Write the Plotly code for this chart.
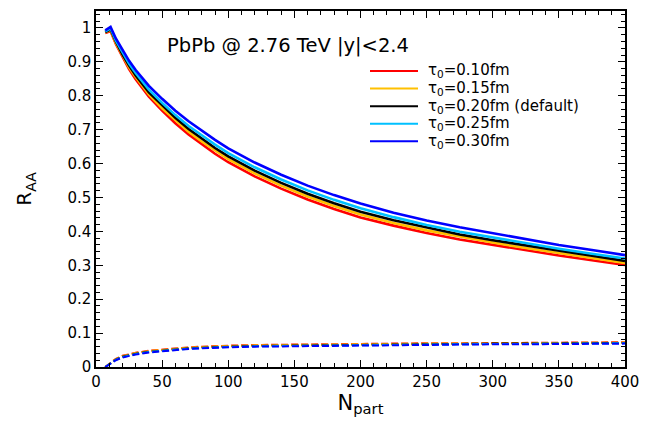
import plotly.graph_objects as go

# N_part sampling points
npart = [7, 11, 15, 20, 25, 30, 40, 50, 60, 70, 80, 90, 100, 120, 140, 160, 180, 200,
         225, 250, 275, 300, 325, 350, 375, 400]

# R_AA (solid curves)
raa_010 = [0.985, 0.991, 0.953, 0.914, 0.879, 0.849, 0.797, 0.756, 0.719, 0.686, 0.657, 0.629, 0.604,
           0.562, 0.526, 0.494, 0.466, 0.441, 0.417, 0.395, 0.376, 0.360, 0.344, 0.329, 0.315, 0.301]
raa_015 = [0.987, 0.994, 0.956, 0.918, 0.884, 0.855, 0.804, 0.763, 0.727, 0.694, 0.665, 0.638, 0.613,
           0.571, 0.535, 0.503, 0.475, 0.450, 0.425, 0.403, 0.384, 0.367, 0.351, 0.336, 0.321, 0.307]
raa_020 = [0.988, 0.996, 0.960, 0.922, 0.889, 0.860, 0.810, 0.771, 0.735, 0.702, 0.674, 0.646, 0.621,
           0.579, 0.543, 0.511, 0.483, 0.458, 0.433, 0.411, 0.391, 0.374, 0.358, 0.342, 0.328, 0.313]
raa_025 = [0.990, 0.999, 0.963, 0.927, 0.895, 0.867, 0.818, 0.779, 0.743, 0.711, 0.683, 0.656, 0.631,
           0.589, 0.553, 0.521, 0.493, 0.468, 0.442, 0.419, 0.399, 0.382, 0.365, 0.349, 0.334, 0.320]
raa_030 = [0.993, 1.003, 0.969, 0.934, 0.903, 0.876, 0.829, 0.791, 0.756, 0.725, 0.697, 0.670, 0.645,
           0.603, 0.567, 0.535, 0.507, 0.482, 0.455, 0.432, 0.412, 0.394, 0.377, 0.360, 0.345, 0.330]

# dashed (lower) curves
dash_010 = [0.0, 0.012, 0.024, 0.033, 0.038, 0.042, 0.048, 0.052, 0.055, 0.058, 0.060, 0.062, 0.063,
            0.065, 0.066, 0.067, 0.068, 0.069, 0.069, 0.070, 0.070, 0.071, 0.071, 0.072, 0.072, 0.073]
dash_015 = [0.0, 0.012, 0.023, 0.032, 0.037, 0.041, 0.047, 0.051, 0.054, 0.057, 0.059, 0.061, 0.062,
            0.064, 0.065, 0.066, 0.067, 0.068, 0.068, 0.069, 0.069, 0.070, 0.070, 0.071, 0.071, 0.072]
dash_020 = [0.0, 0.011, 0.022, 0.030, 0.035, 0.039, 0.045, 0.049, 0.052, 0.055, 0.057, 0.059, 0.060,
            0.062, 0.063, 0.064, 0.065, 0.066, 0.067, 0.068, 0.068, 0.069, 0.069, 0.070, 0.070, 0.071]
dash_025 = [0.0, 0.011, 0.021, 0.029, 0.034, 0.038, 0.044, 0.048, 0.051, 0.054, 0.056, 0.058, 0.059,
            0.061, 0.062, 0.063, 0.064, 0.065, 0.066, 0.067, 0.067, 0.068, 0.068, 0.069, 0.069, 0.070]
dash_030 = [0.0, 0.010, 0.020, 0.028, 0.033, 0.037, 0.043, 0.047, 0.050, 0.053, 0.055, 0.057, 0.058,
            0.060, 0.061, 0.062, 0.063, 0.064, 0.065, 0.066, 0.066, 0.067, 0.067, 0.068, 0.068, 0.069]

labels = ["τ<sub>0</sub>=0.10fm", "τ<sub>0</sub>=0.15fm", "τ<sub>0</sub>=0.20fm (default)",
          "τ<sub>0</sub>=0.25fm", "τ<sub>0</sub>=0.30fm"]
colors = ["#ff0000", "#ffc000", "#000000", "#00c0ff", "#0000ff"]
solid = [raa_010, raa_015, raa_020, raa_025, raa_030]
dashed = [dash_010, dash_015, dash_020, dash_025, dash_030]

font_family = "DejaVu Sans, Liberation Sans, Arial, sans-serif"

fig = go.Figure()
for lab, col, ys in zip(labels, colors, solid):
    fig.add_trace(go.Scatter(x=npart, y=ys, mode="lines", name=lab, showlegend=False,
                             line=dict(color=col, width=2.6)))
for lab, col, ys in zip(labels, colors, dashed):
    fig.add_trace(go.Scatter(x=npart, y=ys, mode="lines", name=lab, showlegend=False,
                             line=dict(color=col, width=2, dash="7px,3px")))

axis_common = dict(showgrid=False, zeroline=False, showline=True, linecolor="black", linewidth=1.5,
                   mirror="ticks", ticks="inside", ticklen=7, tickwidth=1, tickcolor="black",
                   tickfont=dict(size=15, color="black", family=font_family))

fig.update_xaxes(range=[0, 400], tick0=0, dtick=50,
                 minor=dict(ticks="inside", ticklen=4, dtick=10, tickcolor="black"),
                 title=dict(text="N<sub>part</sub>", font=dict(size=21, color="black", family=font_family),
                            standoff=0),
                 **axis_common)
fig.update_yaxes(range=[0, 1.05], tick0=0, dtick=0.1,
                 minor=dict(ticks="inside", ticklen=4, dtick=0.02, tickcolor="black"),
                 title=dict(text="R<sub>AA</sub>", font=dict(size=20, color="black", family=font_family),
                            standoff=30),
                 tickformat="~g",
                 **axis_common)

# plot-area geometry in page pixels (for placing text / legend)
PX0, PX1, PY0, PY1 = 96, 625, 9, 367


def px(xp):
    return (xp - PX0) / (PX1 - PX0)


def py(yp):
    return (PY1 - yp) / (PY1 - PY0)


fig.add_annotation(text="PbPb @ 2.76 TeV |y|<2.4", xref="paper", yref="paper",
                   x=px(165), y=py(44), xanchor="left", yanchor="middle",
                   showarrow=False, font=dict(size=19.5, color="black", family=font_family))

# legend (drawn as line samples + labels)
row_y = [69.3, 87.0, 104.7, 122.4, 140.1]
for lab, col, ry in zip(labels, colors, row_y):
    fig.add_shape(type="line", xref="paper", yref="paper", x0=px(370), x1=px(418),
                  y0=py(ry), y1=py(ry), line=dict(color=col, width=2))
    fig.add_annotation(text=lab, xref="paper", yref="paper", x=px(426), y=py(ry),
                       xanchor="left", yanchor="middle", showarrow=False,
                       font=dict(size=15, color="black", family=font_family))

fig.update_layout(
    width=647, height=417,
    margin=dict(l=88, r=30, t=1, b=58),
    paper_bgcolor="white", plot_bgcolor="white",
    font=dict(family=font_family, color="black"),
    showlegend=False,
)

fig.write_html("out.html")
